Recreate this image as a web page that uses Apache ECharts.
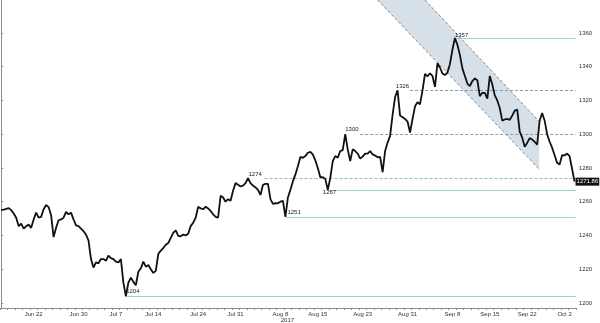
<!DOCTYPE html>
<html><head><meta charset="utf-8">
<script src="https://cdn.jsdelivr.net/npm/echarts@6/dist/echarts.min.js"></script>
<style>html,body{margin:0;padding:0;background:#fff}#c{width:600px;height:323px}</style>
</head><body><div id="c"></div>
<script>
// price readings, 3 per trading day, Jun 16 – Oct 2 2017
const prices = [
1255,1255.3,1255.7, 1256.2,1255,1253, 1250.5,1245.5,1247, 1244,1245.5,1246.4, 1244.5,1249.5,1253.5,
1250.5,1251,1255.5, 1258,1256.8,1252, 1239,1244.5,1249, 1249.5,1250.5,1254, 1252.5,1253.5,1249.5,
1246,1245.5,1244, 1242.5,1240.5,1237, 1226,1221,1224, 1223.5,1226,1226, 1225,1228,1226.5,
1226,1224.5,1224, 1226,1212,1204, 1212,1215,1212.5, 1210.5,1218.5,1220.5, 1224.5,1221.5,1222.5,
1220,1217.8,1219, 1229,1231,1232.5, 1234.5,1235.5,1238.5, 1241.5,1243,1239.8, 1239.5,1240.5,1240,
1241,1245.5,1247.5, 1250.5,1257,1256, 1255.5,1257,1256, 1254.5,1252.5,1251, 1250.5,1263.5,1262.5,
1260,1261.5,1260.5, 1266.5,1271,1270, 1269,1269.5,1271, 1274,1271,1269.5, 1268.5,1267,1264,
1270,1270.5,1270.5, 1261.5,1258.7,1259.2, 1259,1260,1260.5, 1251,1262.5,1267, 1272,1276,1281,
1286.5,1286,1287, 1289,1289.5,1288, 1284.5,1280,1274.5, 1274.5,1273.5,1267, 1274,1284,1287,
1286,1290,1290.5, 1300,1291,1284, 1291,1290,1288.5, 1285.5,1286.7,1288.5, 1288.5,1290,1288,
1287.3,1286.3,1286.5, 1277.5,1290,1295, 1299,1311.5,1322, 1326,1311,1310, 1309,1307.5,1301,
1309,1316.5,1319, 1317.6,1326,1335.7, 1334.3,1336,1334.5, 1328,1342,1339.5, 1336,1335,1336.5,
1341.5,1350,1357, 1353,1347,1339, 1334.5,1330,1328.5, 1331.5,1333,1332, 1322.5,1324.5,1324.5,
1321,1334.5,1329.5, 1323,1320,1315.5, 1308,1308.7,1309, 1308.5,1311,1314, 1314.5,1301.5,1298,
1292.5,1294.8,1297.7, 1296.8,1295.5,1293.8, 1308,1312.5,1308, 1300,1295.5,1292, 1287.5,1283,1282,
1287.5,1287.4,1288.5, 1287,1279.5,1271.86
];
const lastPriceText = '1271.86';
const dayLabels = ['Jun 22','Jun 30','Jul 7','Jul 14','Jul 24','Jul 31','Aug 8','Aug 15','Aug 23','Aug 31','Sep 8','Sep 15','Sep 22','Oct 2'];
const dayLabelPos = [13,31,46,61,79,94,112,127,145,163,181,196,211,226];
const yearLabel = '2017';
const yearLabelDay = 'Aug 8';
const yTicks = [1200,1220,1240,1260,1280,1300,1320,1340,1360];
const levelValues = [1357,1326,1300,1274,1267,1251,1204];
const levelStart = [182,164,144,105.6,131.6,114.4,49.7];
const levelKind = ['solid','grey','grey','tealdash','solid','solid','solid'];
const levelLabelPos = [[182,1358.8],[158.3,1328.2],[138,1302.8],[99.2,1276.3],[129,1265.5],[114.8,1253.9],[50.1,1207]];
const channelLower = [[151,1379.5],[215.8,1279.3]];
const channelUpper = [[170,1379.5],[215.8,1307.5]];

const X_MIN = -0.5, X_MAX = prices.length - 0.5;
const FONT = 'Liberation Sans';
const lineData = prices.map((p, i) => [i, p]);
const dayBounds = [];
for (let i = 0; i <= prices.length; i += 3) dayBounds.push(i - 0.5);

const kindStyle = {
  solid: {color: '#9fd3c8', type: 'solid', width: 1},
  grey: {color: '#9a9a9a', type: [3, 2], width: 1},
  tealdash: {color: '#8fbdb4', type: [3, 2], width: 1}
};

const chart = echarts.init(document.getElementById('c'), null, {renderer: 'canvas'});
chart.setOption({
  animation: false,
  backgroundColor: '#fff',
  grid: {left: -2.82, right: 24.2, top: 0, bottom: 13.5, containLabel: false},
  xAxis: {
    type: 'value', min: X_MIN, max: X_MAX,
    splitLine: {show: false},
    axisLine: {show: true, lineStyle: {color: '#8c8c8c', width: 1}},
    axisTick: {show: true, length: 2, customValues: dayBounds, lineStyle: {color: '#8c8c8c'}},
    axisLabel: {
      customValues: dayLabelPos, margin: 3, fontSize: 6, fontFamily: FONT, color: '#333',
      formatter: v => {
        const i = dayLabelPos.indexOf(Math.round(v));
        if (i < 0) return '';
        const t = dayLabels[i];
        return t === yearLabelDay ? '{a|' + t + '}\n{b|' + yearLabel + '}' : t;
      },
      rich: {a: {fontSize: 6, fontFamily: FONT, color: '#333'}, b: {fontSize: 6, fontFamily: FONT, color: '#333', padding: [0, 0, 0, 14]}}
    }
  },
  yAxis: {
    type: 'value', position: 'right', min: 1197, max: 1379.5,
    splitLine: {show: false},
    axisLine: {show: true, lineStyle: {color: '#8c8c8c', width: 1}},
    axisTick: {show: true, length: 2, customValues: yTicks, lineStyle: {color: '#8c8c8c'}},
    axisLabel: {customValues: yTicks, margin: 3, fontSize: 6, fontFamily: FONT, color: '#333', formatter: v => String(v)}
  },
  series: [
    {
      type: 'custom', z: 1, silent: true, clip: true,
      data: [[channelLower[0][0], channelLower[0][1]]],
      renderItem: (params, api) => {
        const a = api.coord(channelLower[0]), b = api.coord(channelLower[1]);
        const d = api.coord(channelUpper[0]), c = api.coord(channelUpper[1]);
        const dash = {stroke: '#8a8a8a', lineWidth: 1, lineDash: [3, 2], fill: null};
        return {type: 'group', children: [
          {type: 'polygon', shape: {points: [a, b, c, d]}, style: {fill: '#d5e0e8'}},
          {type: 'polyline', shape: {points: [a, b]}, style: dash},
          {type: 'polyline', shape: {points: [d, c]}, style: dash}
        ]};
      }
    },
    {
      type: 'line', z: 3, data: lineData, showSymbol: false, symbol: 'none', silent: true,
      lineStyle: {color: '#111', width: 1.8},
      endLabel: {show: true, formatter: lastPriceText, distance: 1, backgroundColor: '#111', color: '#fff',
        fontSize: 6, fontFamily: FONT, padding: [1, 1]},
      markLine: {
        silent: true, symbol: ['none', 'none'], label: {show: false}, z: 2,
        data: levelValues.map((v, i) => [
          {coord: [levelStart[i], v], lineStyle: kindStyle[levelKind[i]]},
          {coord: [X_MAX, v]}
        ])
      },
      markPoint: {
        silent: true, symbol: 'circle', symbolSize: 0,
        label: {show: true, position: 'right', distance: 0, fontSize: 6, fontFamily: FONT, color: '#222'},
        data: levelValues.map((v, i) => ({coord: levelLabelPos[i], value: v, label: {formatter: String(v)}}))
      }
    }
  ]
});
</script></body></html>
